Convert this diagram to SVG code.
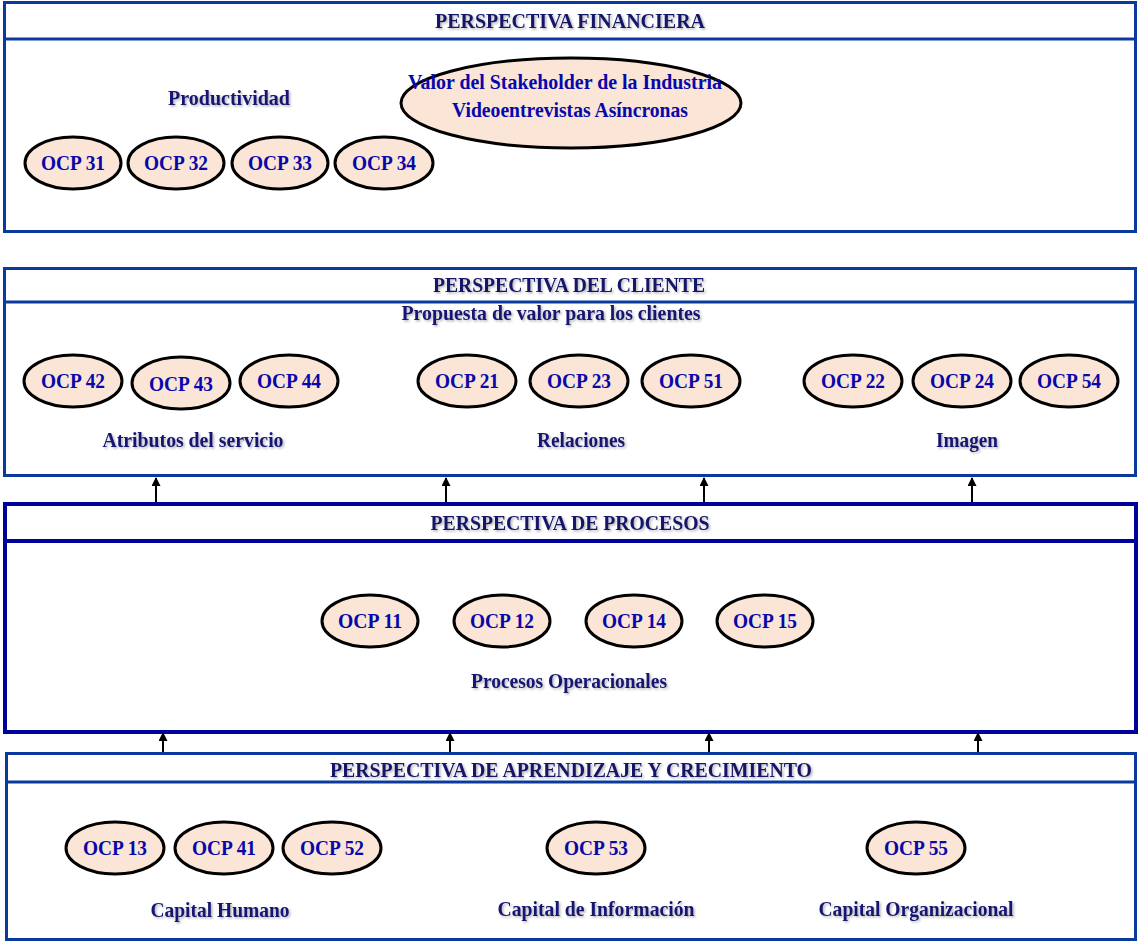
<svg xmlns="http://www.w3.org/2000/svg" width="1139" height="943" viewBox="0 0 1139 943">
<defs>
<filter id="sh" x="-5%" y="-20%" width="110%" height="150%">
<feDropShadow dx="1.5" dy="1.5" stdDeviation="0.8" flood-color="#000" flood-opacity="0.3"/>
</filter>
<marker id="ah" viewBox="0 0 10 10" refX="9" refY="5" markerWidth="10" markerHeight="9" markerUnits="userSpaceOnUse" orient="auto">
<path d="M0,0 L10,5 L0,10 z" fill="#000"/>
</marker>
</defs>
<style>
.panel{fill:#fff;stroke:#0a3a9e;stroke-width:3}
.panelD{fill:#fff;stroke:#00009a;stroke-width:4}
.div{stroke:#0a3a9e;stroke-width:3}
.divD{stroke:#00009a;stroke-width:4}
.title{font-family:"Liberation Serif","Times New Roman",serif;font-weight:bold;font-size:20px;fill:#141468;text-anchor:middle;filter:url(#sh)}
.lbl{font-family:"Liberation Serif","Times New Roman",serif;font-weight:bold;font-size:21px;fill:#161672;text-anchor:middle;filter:url(#sh)}
.ocp ellipse{fill:#fbe5d6;stroke:#000;stroke-width:3}
.ocp text{font-family:"Liberation Serif","Times New Roman",serif;font-weight:bold;font-size:21px;fill:#0808aa;text-anchor:middle}
.big{font-family:"Liberation Serif","Times New Roman",serif;font-weight:bold;font-size:21px;fill:#0808aa;text-anchor:middle}
.conn line{stroke:#000;stroke-width:2;marker-end:url(#ah)}
</style>

<g id="financiera">
<rect class="panel" x="4.5" y="2.5" width="1131" height="229"/>
<line class="div" x1="4.5" y1="39" x2="1135.5" y2="39"/>
<text class="title" x="570" y="28" textLength="270" lengthAdjust="spacingAndGlyphs">PERSPECTIVA FINANCIERA</text>
<text class="lbl" x="229" y="105" textLength="122" lengthAdjust="spacingAndGlyphs">Productividad</text>
</g>
<g id="valor" class="ocp">
<ellipse cx="571" cy="103" rx="170" ry="45"/>
<text class="big" x="565" y="89" textLength="314" lengthAdjust="spacingAndGlyphs">Valor del Stakeholder de la Industria</text>
<text class="big" x="570" y="117" textLength="236" lengthAdjust="spacingAndGlyphs">Videoentrevistas Asíncronas</text>
</g>
<g id="ocp31" class="ocp"><ellipse cx="73" cy="163" rx="48" ry="26"/><text x="73" y="170" textLength="64" lengthAdjust="spacingAndGlyphs">OCP 31</text></g>
<g id="ocp32" class="ocp"><ellipse cx="176" cy="163" rx="48" ry="26"/><text x="176" y="170" textLength="64" lengthAdjust="spacingAndGlyphs">OCP 32</text></g>
<g id="ocp33" class="ocp"><ellipse cx="280" cy="163" rx="48" ry="26"/><text x="280" y="170" textLength="64" lengthAdjust="spacingAndGlyphs">OCP 33</text></g>
<g id="ocp34" class="ocp"><ellipse cx="384" cy="163" rx="49" ry="26"/><text x="384" y="170" textLength="64" lengthAdjust="spacingAndGlyphs">OCP 34</text></g>

<g id="cliente">
<rect class="panel" x="4.5" y="268.5" width="1131" height="207"/>
<line class="div" x1="4.5" y1="302" x2="1135.5" y2="302"/>
<text class="title" x="569" y="292" textLength="272" lengthAdjust="spacingAndGlyphs">PERSPECTIVA DEL CLIENTE</text>
<text class="lbl" x="551" y="320" font-size="19" textLength="299" lengthAdjust="spacingAndGlyphs">Propuesta de valor para los clientes</text>
<text class="lbl" x="193" y="447" textLength="181" lengthAdjust="spacingAndGlyphs">Atributos del servicio</text>
<text class="lbl" x="581" y="447" textLength="88" lengthAdjust="spacingAndGlyphs">Relaciones</text>
<text class="lbl" x="967" y="447" textLength="62" lengthAdjust="spacingAndGlyphs">Imagen</text>
</g>
<g id="ocp42" class="ocp"><ellipse cx="73" cy="381" rx="49" ry="26"/><text x="73" y="388" textLength="64" lengthAdjust="spacingAndGlyphs">OCP 42</text></g>
<g id="ocp43" class="ocp"><ellipse cx="181" cy="383" rx="49" ry="26"/><text x="181" y="391" textLength="64" lengthAdjust="spacingAndGlyphs">OCP 43</text></g>
<g id="ocp44" class="ocp"><ellipse cx="289" cy="381" rx="49" ry="26"/><text x="289" y="388" textLength="64" lengthAdjust="spacingAndGlyphs">OCP 44</text></g>
<g id="ocp21" class="ocp"><ellipse cx="467" cy="381" rx="49" ry="26"/><text x="467" y="388" textLength="64" lengthAdjust="spacingAndGlyphs">OCP 21</text></g>
<g id="ocp23" class="ocp"><ellipse cx="579" cy="381" rx="49" ry="26"/><text x="579" y="388" textLength="64" lengthAdjust="spacingAndGlyphs">OCP 23</text></g>
<g id="ocp51" class="ocp"><ellipse cx="691" cy="381" rx="49" ry="26"/><text x="691" y="388" textLength="64" lengthAdjust="spacingAndGlyphs">OCP 51</text></g>
<g id="ocp22" class="ocp"><ellipse cx="853" cy="381" rx="49" ry="26"/><text x="853" y="388" textLength="64" lengthAdjust="spacingAndGlyphs">OCP 22</text></g>
<g id="ocp24" class="ocp"><ellipse cx="962" cy="381" rx="49" ry="26"/><text x="962" y="388" textLength="64" lengthAdjust="spacingAndGlyphs">OCP 24</text></g>
<g id="ocp54" class="ocp"><ellipse cx="1069" cy="381" rx="49" ry="26"/><text x="1069" y="388" textLength="64" lengthAdjust="spacingAndGlyphs">OCP 54</text></g>

<g id="procesos">
<rect class="panelD" x="5" y="504" width="1131" height="228"/>
<line class="divD" x1="5" y1="541" x2="1136" y2="541"/>
<text class="title" x="570" y="530" textLength="279" lengthAdjust="spacingAndGlyphs">PERSPECTIVA DE PROCESOS</text>
<text class="lbl" x="569" y="688" textLength="196" lengthAdjust="spacingAndGlyphs">Procesos Operacionales</text>
</g>
<g id="ocp11" class="ocp"><ellipse cx="370" cy="621" rx="48" ry="26"/><text x="370" y="628" textLength="64" lengthAdjust="spacingAndGlyphs">OCP 11</text></g>
<g id="ocp12" class="ocp"><ellipse cx="502" cy="621" rx="48" ry="26"/><text x="502" y="628" textLength="64" lengthAdjust="spacingAndGlyphs">OCP 12</text></g>
<g id="ocp14" class="ocp"><ellipse cx="634" cy="621" rx="48" ry="26"/><text x="634" y="628" textLength="64" lengthAdjust="spacingAndGlyphs">OCP 14</text></g>
<g id="ocp15" class="ocp"><ellipse cx="765" cy="621" rx="48" ry="26"/><text x="765" y="628" textLength="64" lengthAdjust="spacingAndGlyphs">OCP 15</text></g>

<g id="aprendizaje">
<rect class="panel" x="6.5" y="753.5" width="1129" height="186"/>
<line class="div" x1="6.5" y1="782" x2="1135.5" y2="782"/>
<text class="title" x="571" y="777" textLength="482" lengthAdjust="spacingAndGlyphs">PERSPECTIVA DE APRENDIZAJE Y CRECIMIENTO</text>
<text class="lbl" x="220" y="917" textLength="139" lengthAdjust="spacingAndGlyphs">Capital Humano</text>
<text class="lbl" x="596" y="916" textLength="197" lengthAdjust="spacingAndGlyphs">Capital de Información</text>
<text class="lbl" x="916" y="916" textLength="195" lengthAdjust="spacingAndGlyphs">Capital Organizacional</text>
</g>
<g id="ocp13" class="ocp"><ellipse cx="115" cy="848" rx="49" ry="26"/><text x="115" y="855" textLength="64" lengthAdjust="spacingAndGlyphs">OCP 13</text></g>
<g id="ocp41" class="ocp"><ellipse cx="224" cy="848" rx="49" ry="26"/><text x="224" y="855" textLength="64" lengthAdjust="spacingAndGlyphs">OCP 41</text></g>
<g id="ocp52" class="ocp"><ellipse cx="332" cy="848" rx="49" ry="26"/><text x="332" y="855" textLength="64" lengthAdjust="spacingAndGlyphs">OCP 52</text></g>
<g id="ocp53" class="ocp"><ellipse cx="596" cy="848" rx="49" ry="26"/><text x="596" y="855" textLength="64" lengthAdjust="spacingAndGlyphs">OCP 53</text></g>
<g id="ocp55" class="ocp"><ellipse cx="916" cy="848" rx="49" ry="26"/><text x="916" y="855" textLength="64" lengthAdjust="spacingAndGlyphs">OCP 55</text></g>

<g id="connectors" class="conn">
<line x1="156" y1="502" x2="156" y2="478"/>
<line x1="446" y1="502" x2="446" y2="478"/>
<line x1="704" y1="502" x2="704" y2="478"/>
<line x1="972" y1="502" x2="972" y2="478"/>
<line x1="163" y1="752" x2="163" y2="733"/>
<line x1="450" y1="752" x2="450" y2="733"/>
<line x1="709" y1="752" x2="709" y2="733"/>
<line x1="978" y1="752" x2="978" y2="733"/>
</g>
</svg>
